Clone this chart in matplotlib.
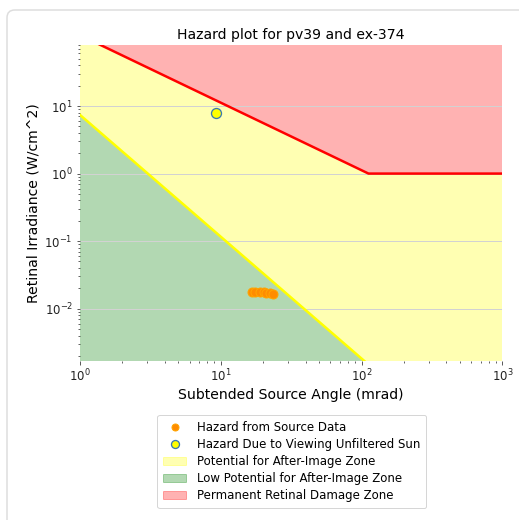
import matplotlib
matplotlib.use("Agg")
import matplotlib.pyplot as plt
import numpy as np
from matplotlib.patches import FancyBboxPatch, Patch
from matplotlib.lines import Line2D

# source hazard points (mrad, W/cm^2)
src_angle = [16.6, 17.5, 19.0, 20.2, 21.0, 22.4, 23.6]
src_irr = [0.0178, 0.0177, 0.0177, 0.0175, 0.0172, 0.0169, 0.0166]

# unfiltered sun
sun_angle = [9.3]
sun_irr = [7.8]

# permanent retinal damage threshold
burn_angle = [1, 112, 1000]
burn_irr = [112, 1, 1]

# after-image threshold
ai_angle = [1, 116]
ai_irr = [7.4, 0.0014]

xlim = (1, 1000)
ylim = (0.0017, 80)
top = 1e3

fig = plt.figure(figsize=(519 / 72, 520 / 72), dpi=72)
ax = fig.add_axes([0.154, 0.3063, 0.814, 0.6072])

# zones
ax.fill(burn_angle + [1000, 1], burn_irr + [top, top], color="red", alpha=0.3, lw=0)
ax.fill(burn_angle + [1000, ai_angle[1], ai_angle[0]],
        burn_irr + [ai_irr[1], ai_irr[1], ai_irr[0]], color="yellow", alpha=0.3, lw=0)
ax.fill(ai_angle + [ai_angle[0]], ai_irr + [ai_irr[1]], color="green", alpha=0.3, lw=0)

ax.plot(burn_angle, burn_irr, color="red", lw=2.5)
ax.plot(ai_angle, ai_irr, color="yellow", lw=2.5)

ax.plot(src_angle, src_irr, "o", color="darkorange", mec="orange", ms=9, ls="none")
ax.plot(sun_angle, sun_irr, "o", color="yellow", mec="#3a7ab0", mew=1.3, ms=10, ls="none")

ax.set_xscale("log")
ax.set_yscale("log")
ax.set_xlim(xlim)
ax.set_ylim(ylim)
ax.grid(True, axis="y", which="major", color="#d2d2d2", lw=1)
for s in ax.spines.values():
    s.set_visible(False)
ax.tick_params(labelsize=11.7, colors="#333333", labelcolor="#222222")

ax.set_title("Hazard plot for pv39 and ex-374", fontsize=14)
ax.set_xlabel("Subtended Source Angle (mrad)", fontsize=14)
ax.set_ylabel("Retinal Irradiance (W/cm^2)", fontsize=14)

handles = [
    Line2D([], [], marker="o", color="darkorange", mec="orange", ls="none", ms=7),
    Line2D([], [], marker="o", color="yellow", mec="#3a7ab0", mew=1.3, ls="none", ms=8),
    Patch(color="yellow", alpha=0.3),
    Patch(color="green", alpha=0.3),
    Patch(color="red", alpha=0.3),
]
labels = ["Hazard from Source Data", "Hazard Due to Viewing Unfiltered Sun",
          "Potential for After-Image Zone", "Low Potential for After-Image Zone",
          "Permanent Retinal Damage Zone"]
fig.legend(handles, labels, loc="upper center", bbox_to_anchor=(0.562, 0.2135), fontsize=11.7,
           handletextpad=0.9, borderpad=0.5, labelspacing=0.35)

# notebook output frame
frame = FancyBboxPatch((7 / 519, -0.05), 1.2, 1 - 10 / 520 + 0.05,
                       boxstyle="round,pad=0,rounding_size=0.015",
                       transform=fig.transFigure, fill=False, ec="#dddddd", lw=1.5)
fig.patches.append(frame)

fig.savefig("out.png", dpi=72)
